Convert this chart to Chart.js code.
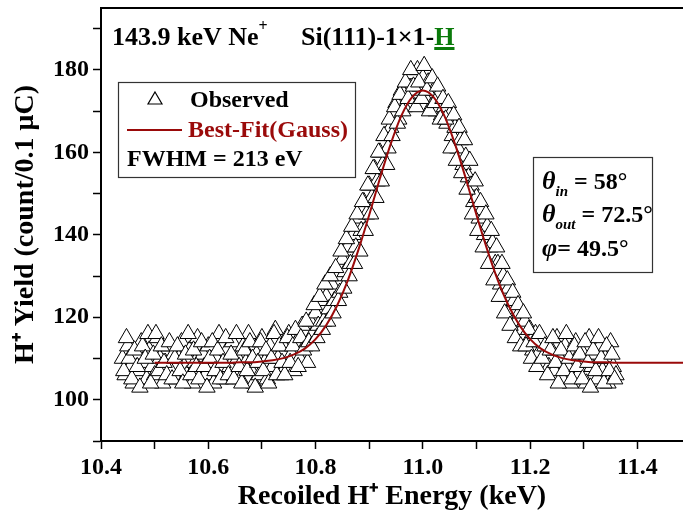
<!DOCTYPE html>
<html>
<head>
<meta charset="utf-8">
<script src="https://cdn.jsdelivr.net/npm/chart.js@4.4.1/dist/chart.umd.min.js"></script>
<style>
    html, body { margin: 0; padding: 0; background: #fff; }
</style>
</head>
<body>
<canvas id="espectro" width="683" height="518"></canvas>
<script>
// Canvas de ChartJS
const cEsp = document.getElementById('espectro');

// Datos observados (energia en keV, rendimiento en count/0.1 uC)
const energia = [
    10.440, 10.445, 10.450, 10.455, 10.460, 10.465, 10.470, 10.475, 10.480, 10.485,
    10.490, 10.495, 10.500, 10.505, 10.510, 10.515, 10.520, 10.525, 10.530, 10.535,
    10.540, 10.545, 10.550, 10.555, 10.560, 10.565, 10.570, 10.575, 10.580, 10.585,
    10.590, 10.595, 10.600, 10.605, 10.610, 10.615, 10.620, 10.625, 10.630, 10.635,
    10.640, 10.645, 10.650, 10.655, 10.660, 10.665, 10.670, 10.675, 10.680, 10.685,
    10.690, 10.695, 10.700, 10.705, 10.710, 10.715, 10.720, 10.725, 10.730, 10.735,
    10.740, 10.745, 10.750, 10.755, 10.760, 10.765, 10.770, 10.775, 10.780, 10.785,
    10.790, 10.795, 10.800, 10.805, 10.810, 10.815, 10.820, 10.825, 10.830, 10.835,
    10.840, 10.845, 10.850, 10.855, 10.860, 10.865, 10.870, 10.875, 10.880, 10.885,
    10.890, 10.895, 10.900, 10.905, 10.910, 10.915, 10.920, 10.925, 10.930, 10.935,
    10.940, 10.945, 10.950, 10.955, 10.960, 10.965, 10.970, 10.975, 10.980, 10.985,
    10.990, 10.995, 11.000, 11.005, 11.010, 11.015, 11.020, 11.025, 11.030, 11.035,
    11.040, 11.045, 11.050, 11.055, 11.060, 11.065, 11.070, 11.075, 11.080, 11.085,
    11.090, 11.095, 11.100, 11.105, 11.110, 11.115, 11.120, 11.125, 11.130, 11.135,
    11.140, 11.145, 11.150, 11.155, 11.160, 11.165, 11.170, 11.175, 11.180, 11.185,
    11.190, 11.195, 11.200, 11.205, 11.210, 11.215, 11.220, 11.225, 11.230, 11.235,
    11.240, 11.245, 11.250, 11.255, 11.260, 11.265, 11.270, 11.275, 11.280, 11.285,
    11.290, 11.295, 11.300, 11.305, 11.310, 11.315, 11.320, 11.325, 11.330, 11.335,
    11.340, 11.345, 11.350, 11.355, 11.360
];
const rendimiento = [
    110, 106, 113, 108, 104, 111, 107, 114, 109, 105,
    112, 108, 106, 115, 110, 104, 109, 113, 107, 111,
    105, 110, 114, 108, 106, 112, 104, 109, 115, 107,
    111, 106, 113, 109, 104, 110, 116, 107, 105, 112,
    108, 114, 106, 110, 105, 113, 109, 116, 107, 104,
    111, 106, 115, 109, 105, 113, 108, 117, 110, 106,
    113, 108, 116, 111, 107, 114, 110, 118, 113, 109,
    119, 116, 121, 118, 124, 119, 125, 122, 128, 124,
    130, 126, 134, 131, 137, 133, 140, 137, 144, 141,
    148, 145, 152, 149, 156, 153, 160, 157, 164, 161,
    166, 169, 172, 168, 175, 171, 177, 173, 179, 175,
    180, 176, 178, 173, 177, 171, 175, 170, 174, 169,
    171, 167, 169, 164, 166, 161, 163, 157, 159, 154,
    152, 148, 149, 144, 146, 140, 142, 137, 138, 133,
    133, 128, 130, 125, 127, 122, 124, 119, 121, 117,
    119, 114, 117, 112, 116, 111, 114, 109, 113, 108,
    112, 107, 115, 110, 105, 113, 108, 104, 111, 114,
    106, 112, 109, 104, 115, 108, 111, 105, 113, 107,
    110, 104, 114, 108, 106
];

// Segundo barrido, canales intermedios
const energiaB = [
    10.4425, 10.4475, 10.4525, 10.4575, 10.4625, 10.4675, 10.4725, 10.4775, 10.4825, 10.4875,
    10.4925, 10.4975, 10.5025, 10.5075, 10.5125, 10.5175, 10.5225, 10.5275, 10.5325, 10.5375,
    10.5425, 10.5475, 10.5525, 10.5575, 10.5625, 10.5675, 10.5725, 10.5775, 10.5825, 10.5875,
    10.5925, 10.5975, 10.6025, 10.6075, 10.6125, 10.6175, 10.6225, 10.6275, 10.6325, 10.6375,
    10.6425, 10.6475, 10.6525, 10.6575, 10.6625, 10.6675, 10.6725, 10.6775, 10.6825, 10.6875,
    10.6925, 10.6975, 10.7025, 10.7075, 10.7125, 10.7175, 10.7225, 10.7275, 10.7325, 10.7375,
    10.7425, 10.7475, 10.7525, 10.7575, 10.7625, 10.7675, 10.7725, 10.7775, 10.7825, 10.7875,
    10.7925, 10.7975, 10.8025, 10.8075, 10.8125, 10.8175, 10.8225, 10.8275, 10.8325, 10.8375,
    10.8425, 10.8475, 10.8525, 10.8575, 10.8625, 10.8675, 10.8725, 10.8775, 10.8825, 10.8875,
    10.8925, 10.8975, 10.9025, 10.9075, 10.9125, 10.9175, 10.9225, 10.9275, 10.9325, 10.9375,
    10.9425, 10.9475, 10.9525, 10.9575, 10.9625, 10.9675, 10.9725, 10.9775, 10.9825, 10.9875,
    10.9925, 10.9975, 11.0025, 11.0075, 11.0125, 11.0175, 11.0225, 11.0275, 11.0325, 11.0375,
    11.0425, 11.0475, 11.0525, 11.0575, 11.0625, 11.0675, 11.0725, 11.0775, 11.0825, 11.0875,
    11.0925, 11.0975, 11.1025, 11.1075, 11.1125, 11.1175, 11.1225, 11.1275, 11.1325, 11.1375,
    11.1425, 11.1475, 11.1525, 11.1575, 11.1625, 11.1675, 11.1725, 11.1775, 11.1825, 11.1875,
    11.1925, 11.1975, 11.2025, 11.2075, 11.2125, 11.2175, 11.2225, 11.2275, 11.2325, 11.2375,
    11.2425, 11.2475, 11.2525, 11.2575, 11.2625, 11.2675, 11.2725, 11.2775, 11.2825, 11.2875,
    11.2925, 11.2975, 11.3025, 11.3075, 11.3125, 11.3175, 11.3225, 11.3275, 11.3325, 11.3375,
    11.3425, 11.3475, 11.3525, 11.3575
];
const rendimientoB = [
    107, 115, 110, 105, 112, 108, 103, 113, 110, 116,
    104, 111, 116, 107, 113, 109, 106, 114, 105, 110,
    113, 107, 104, 111, 116, 106, 112, 108, 105, 114,
    108, 103, 110, 114, 107, 112, 105, 109, 115, 106,
    111, 105, 116, 108, 104, 112, 107, 114, 110, 103,
    109, 114, 107, 112, 104, 110, 116, 106, 113, 109,
    106, 115, 109, 113, 117, 108, 115, 112, 119, 114,
    113, 123, 115, 125, 117, 128, 119, 130, 121, 132,
    124, 136, 127, 139, 130, 142, 133, 145, 136, 148,
    141, 152, 145, 156, 149, 160, 153, 164, 157, 168,
    164, 171, 167, 174, 170, 177, 173, 180, 176, 171,
    177, 173, 181, 175, 170, 178, 172, 176, 168, 173,
    168, 172, 161, 169, 158, 166, 155, 163, 151, 158,
    145, 153, 141, 148, 137, 145, 133, 141, 129, 137,
    125, 133, 121, 129, 118, 126, 115, 123, 113, 121,
    113, 117, 110, 114, 108, 116, 110, 113, 106, 112,
    115, 109, 104, 112, 107, 116, 110, 105, 113, 108,
    111, 105, 114, 109, 103, 112, 107, 115, 110, 104,
    113, 107, 111, 105
];

// Ajuste gaussiano (FWHM = 213 eV)
const ajusteX = [
    10.50, 10.52, 10.54, 10.56, 10.58, 10.60, 10.62, 10.64, 10.66, 10.68,
    10.70, 10.72, 10.74, 10.76, 10.78, 10.80, 10.82, 10.84, 10.86, 10.88,
    10.90, 10.92, 10.94, 10.96, 10.98, 11.00, 11.02, 11.04, 11.06, 11.08,
    11.10, 11.12, 11.14, 11.16, 11.18, 11.20, 11.22, 11.24, 11.26, 11.28,
    11.30, 11.32, 11.34, 11.36, 11.40, 11.485
];
const ajusteY = [
    109.0, 109.0, 109.0, 109.0, 109.0, 109.0, 109.0, 109.0, 109.1, 109.1,
    109.3, 109.6, 110.1, 111.0, 112.4, 114.7, 118.1, 122.8, 128.9, 136.4,
    144.8, 153.7, 162.0, 168.9, 173.4, 175.0, 173.4, 168.9, 162.0, 153.7,
    144.8, 136.4, 128.9, 122.8, 118.1, 114.7, 112.4, 111.0, 110.1, 109.6,
    109.3, 109.1, 109.1, 109.0, 109.0, 109.0
];

// Ejes
const xTicks = [10.4, 10.5, 10.6, 10.7, 10.8, 10.9, 11.0, 11.1, 11.2, 11.3, 11.4];
const xEtiquetas = ['10.4', '10.6', '10.8', '11.0', '11.2', '11.4'];
const yTicks = [90, 100, 110, 120, 130, 140, 150, 160, 170, 180, 190];
const yEtiquetas = [100, 120, 140, 160, 180];

const rojo = '#9a0a0a';
const fuente = '"Liberation Serif", "Times New Roman", serif';

Chart.defaults.font.family = fuente;
Chart.defaults.font.weight = 'bold';
Chart.defaults.color = '#000';

// Textos y cajas sobre la grafica
const anotaciones = {
    id: 'anotaciones',
    afterDraw(chart) {
        const ctx = chart.ctx;
        const area = chart.chartArea;
        ctx.save();

        // marco superior
        ctx.strokeStyle = '#000';
        ctx.lineWidth = 2;
        ctx.beginPath();
        ctx.moveTo(area.left, area.top);
        ctx.lineTo(area.right, area.top);
        ctx.stroke();

        // titulo
        ctx.fillStyle = '#000';
        ctx.textBaseline = 'alphabetic';
        ctx.font = 'bold 26px ' + fuente;
        let t = '143.9 keV Ne';
        ctx.fillText(t, 112, 45);
        let w = ctx.measureText(t).width;
        ctx.font = 'bold 16px ' + fuente;
        ctx.fillText('+', 112 + w, 31);
        ctx.font = 'bold 26px ' + fuente;
        t = 'Si(111)-1\u00d71-';
        ctx.fillText(t, 301, 45);
        w = ctx.measureText(t).width;
        ctx.fillStyle = '#0a7a0a';
        ctx.fillText('H', 301 + w, 45);
        const wh = ctx.measureText('H').width;
        ctx.fillRect(301 + w, 47, wh, 3);

        // leyenda
        ctx.fillStyle = '#fff';
        ctx.fillRect(118, 82, 237, 95);
        ctx.strokeStyle = '#333';
        ctx.lineWidth = 1.2;
        ctx.strokeRect(118.5, 82.5, 237, 95);
        ctx.strokeStyle = '#000';
        ctx.lineWidth = 1.2;
        ctx.beginPath();
        ctx.moveTo(155, 92);
        ctx.lineTo(162, 104);
        ctx.lineTo(148, 104);
        ctx.closePath();
        ctx.stroke();
        ctx.strokeStyle = rojo;
        ctx.lineWidth = 2;
        ctx.beginPath();
        ctx.moveTo(127, 130);
        ctx.lineTo(182, 130);
        ctx.stroke();
        ctx.font = 'bold 24px ' + fuente;
        ctx.fillStyle = '#000';
        ctx.fillText('Observed', 190, 107);
        ctx.fillStyle = rojo;
        ctx.fillText('Best-Fit(Gauss)', 188, 137);
        ctx.fillStyle = '#000';
        ctx.fillText('FWHM = 213 eV', 127, 166);

        // angulos
        ctx.fillStyle = '#fff';
        ctx.fillRect(533, 157, 119, 115);
        ctx.strokeStyle = '#333';
        ctx.lineWidth = 1.2;
        ctx.strokeRect(533.5, 157.5, 119, 115);
        ctx.fillStyle = '#000';
        const linea = (simbolo, sub, resto, y) => {
            let x = 542;
            ctx.font = 'italic bold 26px ' + fuente;
            ctx.fillText(simbolo, x, y);
            x += ctx.measureText(simbolo).width;
            if (sub) {
                ctx.font = 'italic bold 15px ' + fuente;
                ctx.fillText(sub, x, y + 7);
                x += ctx.measureText(sub).width;
            }
            ctx.font = 'bold 24px ' + fuente;
            ctx.fillText(resto, x, y);
        };
        linea('\u03b8', 'in', ' = 58\u00b0', 189);
        linea('\u03b8', 'out', ' = 72.5\u00b0', 222);
        linea('\u03c6', '', '= 49.5\u00b0', 256);

        ctx.restore();
    }
};

const observados = energia.map((x, i) => ({ x: x, y: rendimiento[i] }))
    .concat(energiaB.map((x, i) => ({ x: x, y: rendimientoB[i] })));

new Chart(cEsp, {
    type: 'scatter',
    data: {
        datasets: [
            {
                label: 'Best-Fit(Gauss)',
                data: ajusteX.map((x, i) => ({ x: x, y: ajusteY[i] })),
                showLine: true,
                borderColor: rojo,
                borderWidth: 2,
                pointRadius: 0,
                cubicInterpolationMode: 'monotone',
                order: 0
            },
            {
                label: 'Observed',
                data: observados,
                pointStyle: 'triangle',
                pointRadius: 9.5,
                borderWidth: 1,
                borderColor: '#000',
                backgroundColor: '#fff',
                order: 1
            }
        ]
    },
    options: {
        responsive: false,
        animation: false,
        layout: {
            autoPadding: false,
            padding: { top: 8, right: 0, bottom: 0, left: 0 }
        },
        plugins: {
            legend: { display: false },
            tooltip: { enabled: false }
        },
        scales: {
            x: {
                type: 'linear',
                min: 10.4,
                max: 11.485,
                afterBuildTicks: (scale) => {
                    scale.ticks = xTicks.map(v => ({ value: v }));
                },
                afterFit: (scale) => {
                    scale.height = 77;
                    scale.paddingLeft = 0;
                    scale.paddingRight = 0;
                },
                ticks: {
                    autoSkip: false,
                    maxRotation: 0,
                    padding: 4,
                    font: { size: 24, weight: 'bold' },
                    callback: (v) => xEtiquetas.includes(Number(v).toFixed(1)) ? Number(v).toFixed(1) : ''
                },
                grid: {
                    drawOnChartArea: false,
                    tickLength: 8,
                    tickWidth: 1.5,
                    tickColor: '#000'
                },
                border: { color: '#000', width: 2 },
                title: {
                    display: true,
                    text: 'Recoiled H\u207a Energy (keV)',
                    font: { size: 28, weight: 'bold' },
                    padding: { top: 0, bottom: 4 }
                }
            },
            y: {
                type: 'linear',
                min: 90,
                max: 195,
                afterBuildTicks: (scale) => {
                    scale.ticks = yTicks.map(v => ({ value: v }));
                },
                afterFit: (scale) => {
                    scale.width = 101;
                    scale.paddingTop = 0;
                    scale.paddingBottom = 0;
                },
                ticks: {
                    autoSkip: false,
                    padding: 4,
                    font: { size: 24, weight: 'bold' },
                    callback: (v) => yEtiquetas.includes(v) ? String(v) : ''
                },
                grid: {
                    drawOnChartArea: false,
                    tickLength: 8,
                    tickWidth: 1.5,
                    tickColor: '#000'
                },
                border: { color: '#000', width: 2 },
                title: {
                    display: true,
                    text: 'H\u207a Yield (count/0.1 \u03bcC)',
                    font: { size: 28, weight: 'bold' },
                    padding: { top: 9, bottom: 0 }
                }
            }
        }
    },
    plugins: [anotaciones]
});
</script>
</body>
</html>
